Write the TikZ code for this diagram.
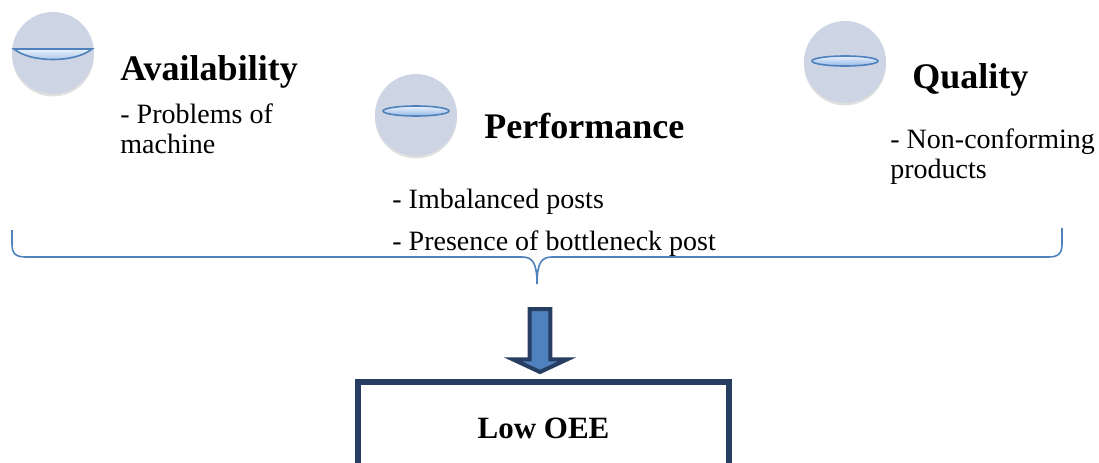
\documentclass[tikz,border=0pt]{standalone}
\usepackage{fontspec}
\setmainfont{Liberation Serif}
\usepackage{xcolor}
\usepackage{tikz}
\usetikzlibrary{shapes.arrows, shapes.geometric, positioning, calc, shadows}
\definecolor{discgray}{RGB}{205, 213, 229}
\definecolor{lensblue}{RGB}{79, 129, 189}
\definecolor{lenslight}{RGB}{234, 241, 252}
\definecolor{lensdark}{RGB}{148, 184, 230}
\definecolor{navyblue}{RGB}{37, 62, 97}
\tikzset{
    disc/.style={
        circle, fill=discgray, minimum size=41pt, inner sep=0pt,
        drop shadow={shadow xshift=0pt, shadow yshift=-1.2pt, opacity=0.25}
    },
    lens/.style={
        draw=lensblue, line width=0.8pt, top color=lenslight, bottom color=lensdark
    },
    titletext/.style={
        anchor=base west, inner sep=0pt, font=\fontsize{18}{20}\selectfont\bfseries
    },
    itemtext/.style={
        anchor=base west, inner sep=0pt, font=\fontsize{14}{16}\selectfont
    }
}

\begin{document}
\begin{tikzpicture}[
        x=0.5pt, y=-0.5pt,
        % --- STYLE ---
        flatlens/.style={lens, ellipse, minimum width=33pt, minimum height=5pt, inner sep=0pt},
        bracepath/.style={draw=lensblue, line width=0.8pt},
        downarrow/.style={single arrow, draw=navyblue, fill=lensblue, line width=2pt, minimum height=31.5pt, minimum width=27pt, inner sep=4pt, single arrow head extend=8pt, single arrow tip angle=130, shape border rotate=270, anchor=tail},
        oeebox/.style={draw=navyblue, line width=3pt, fill=white, minimum width=185.5pt, minimum height=46pt, inner sep=0pt, font=\fontsize{15.5}{17}\selectfont\bfseries}
    ]
    \useasboundingbox (0,0) rectangle (1099,462);
    \clip (0,0) rectangle (1099,462);

        % ==========================================
        % AVAILABILITY
        % ==========================================
        \node[disc] (avail) at (53,53) {};
        \draw[lens] (14,49) -- (92,49) .. controls (75,63) and (31,63) .. (14,49) -- cycle;
        \node[titletext] (availT) at (120,80) {Availability};
        \node[itemtext] (availA) at (120,123) {- Problems of};
        \node[itemtext] (availB) at (120,153) {machine};

        % ==========================================
        % PERFORMANCE
        % ==========================================
        \node[disc] (perf) at (416,115) {};
        \node[flatlens] (perfL) at (416,111) {};
        \node[titletext] (perfT) at (484,138) {Performance};
        \node[itemtext] (perfA) at (392,208) {- Imbalanced posts};
        \node[itemtext] (perfB) at (392,250) {- Presence of bottleneck post};

        % ==========================================
        % QUALITY
        % ==========================================
        \node[disc] (qual) at (845,62) {};
        \node[flatlens] (qualL) at (845,61) {};
        \node[titletext] (qualT) at (912,88) {Quality};
        \node[itemtext] (qualA) at (890,148) {- Non-conforming};
        \node[itemtext] (qualB) at (890,178) {products};

        % ==========================================
        % ACCOLADE + FLECHE
        % ==========================================
        \coordinate (bl) at (12,230);
        \coordinate (br) at (1062,228);
        \coordinate (tip) at (537,284);
        \draw[bracepath] (bl) -- (12,244) .. controls (12,254) and (16,257) .. (26,257)
            -- (522,257) .. controls (532,257) and (537,262) .. (tip)
            .. controls (537,262) and (542,257) .. (552,257)
            -- (1048,257) .. controls (1058,257) and (1062,254) .. (1062,244) -- (br);

        \node[downarrow] (dn) at (540,307) {};

        \node[oeebox] (oee) at (543.5,428) {Low OEE};

\end{tikzpicture}
\end{document}
